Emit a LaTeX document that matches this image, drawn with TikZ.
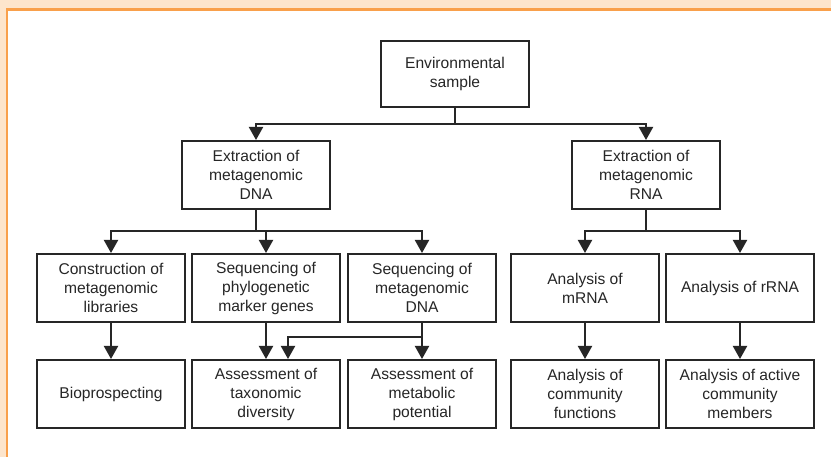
\documentclass[tikz,border=0pt]{standalone}
\usepackage{fontspec}
\setmainfont{Liberation Sans}
\usetikzlibrary{arrows.meta}
\definecolor{peach}{HTML}{FDE5CC}
\definecolor{frameorange}{HTML}{F9A04B}
\definecolor{ink}{HTML}{262626}
\definecolor{txt}{HTML}{262626}
\tikzset{
  box/.style={draw=ink, line width=2pt, fill=white, minimum width=148pt, minimum height=68pt,
    inner sep=0pt, align=center, text=txt, font=\fontsize{15.6}{19}\selectfont},
  conn/.style={draw=ink, line width=2pt},
  arr/.style={conn, -{Triangle[width=14pt,length=13pt]}}
}
\begin{document}
\begin{tikzpicture}[x=1pt,y=-1pt]
\useasboundingbox (0,0) rectangle (831,457);
\fill[peach] (0,0) rectangle (831,457);
\fill[white] (7,9.5) rectangle (831,457);
\draw[frameorange, line width=2.2pt] (7,457) -- (7,9.5) -- (831,9.5);

% nodes
\node[box, minimum height=66pt] (env) at (455,74) {Environmental\\sample};
\node[box] (dna) at (256,175) {Extraction of\\metagenomic\\DNA};
\node[box] (rna) at (646,175) {Extraction of\\metagenomic\\RNA};

\node[box] (constr) at (111,288) {Construction of\\metagenomic\\libraries};
\node[box] (phylo) at (266,288) {Sequencing of\\phylogenetic\\marker genes};
\node[box] (seqdna) at (422,288) {Sequencing of\\metagenomic\\DNA};
\node[box] (mrna) at (585,288) {Analysis of\\mRNA};
\node[box] (rrna) at (740,288) {Analysis of rRNA};

\node[box] (bio) at (111,394) {Bioprospecting};
\node[box] (tax) at (266,394) {Assessment of\\taxonomic\\diversity};
\node[box] (met) at (422,394) {Assessment of\\metabolic\\potential};
\node[box] (func) at (585,394) {Analysis of\\community\\functions};
\node[box] (memb) at (740,394) {Analysis of active\\community\\members};

% junctions
\coordinate (j1) at (455,124);
\coordinate (j2) at (256,231);
\coordinate (j3) at (646,231);
\coordinate (j4) at (422,337);

% connectors
\draw[conn] (env.south) -- (j1);
\draw[arr] (j1) -| (dna.north);
\draw[arr] (j1) -| (rna.north);

\draw[conn] (dna.south) -- (j2);
\draw[arr] (j2) -| (constr.north);
\draw[arr] (j2) -| (phylo.north);
\draw[arr] (j2) -| (seqdna.north);

\draw[conn] (rna.south) -- (j3);
\draw[arr] (j3) -| (mrna.north);
\draw[arr] (j3) -| (rrna.north);

\draw[arr] (constr) -- (bio);
\draw[arr] (phylo) -- (tax);
\draw[arr] (seqdna) -- (met);
\draw[arr] (j4) -| ([xshift=22pt]tax.north);
\draw[arr] (mrna) -- (func);
\draw[arr] (rrna) -- (memb);
\end{tikzpicture}
\end{document}
